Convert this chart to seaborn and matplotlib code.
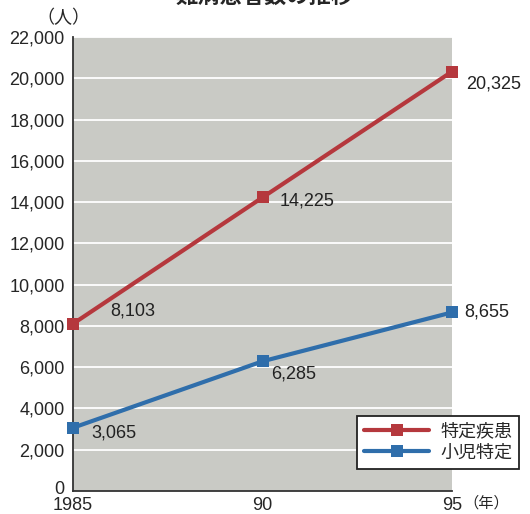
import matplotlib
matplotlib.use("Agg")
import matplotlib.pyplot as plt
import matplotlib.transforms as mtransforms
import seaborn as sns
import pandas as pd

years = [1985, 1990, 1995]
year_labels = ["1985", "90", "95"]
series_names = ["特定疾患", "小児特定"]
tokutei = [8103, 14225, 20325]
shoni = [3065, 6285, 8655]
yticks = list(range(0, 22001, 2000))

sns.set_style("white")
plt.rcParams['font.family'] = ['Liberation Sans', 'Noto Sans CJK JP']

df = pd.DataFrame({
    "year": years * 2,
    "value": tokutei + shoni,
    "series": [series_names[0]] * 3 + [series_names[1]] * 3,
})

fig = plt.figure(figsize=(5.30, 5.14), dpi=100)
ax = fig.add_axes([73/530, 1-491/514, (452-73)/530, (491-37)/514])
ax.set_facecolor("#c9cac5")

colors = {series_names[0]: "#b5383d", series_names[1]: "#2f6eab"}
sns.lineplot(data=df, x="year", y="value", hue="series", palette=colors,
             marker="s", markersize=8.5, linewidth=3, markeredgewidth=0,
             ax=ax, legend=False, zorder=5, clip_on=False)

ax.set_xlim(1985, 1995)
ax.set_ylim(0, 22000)
ax.set_yticks(yticks)
ax.set_yticklabels([f"{v:,}" for v in yticks], fontsize=13)
ax.set_xticks(years)
ax.set_xticklabels(year_labels, fontsize=13)
ax.tick_params(axis='y', length=0, pad=6)
ax.tick_params(axis='x', length=3, width=1, direction='out', color='#333333', pad=1.5)
# lift the "0" label a little so it clears the year labels
lbl0 = ax.get_yticklabels()[0]
lbl0.set_transform(lbl0.get_transform() +
                   mtransforms.ScaledTranslation(0, 3/100, fig.dpi_scale_trans))
for y in yticks[1:]:
    ax.axhline(y, color="white", lw=1.3, zorder=1)
ax.set_xlabel("")
ax.set_ylabel("")
for s in ["top", "right"]:
    ax.spines[s].set_visible(False)
ax.spines["left"].set_color("#333333")
ax.spines["bottom"].set_color("#333333")
ax.spines["left"].set_linewidth(1.3)
ax.spines["bottom"].set_linewidth(1.3)

# value labels
offsets_t = [(27, 9), (12, -2.5), (10, -9)]
offsets_s = [(13, -3.5), (6.5, -9), (9, 0)]
for (x, v), (dx, dy) in zip(zip(years, tokutei), offsets_t):
    ax.annotate(f"{v:,}", (x, v), xytext=(dx, dy), textcoords="offset points",
                fontsize=13, ha="left", va="center", color="#222222")
for (x, v), (dx, dy) in zip(zip(years, shoni), offsets_s):
    ax.annotate(f"{v:,}", (x, v), xytext=(dx, dy), textcoords="offset points",
                fontsize=13, ha="left", va="center", color="#222222")

# legend
from matplotlib.lines import Line2D
handles = [Line2D([0], [0], color=colors[n], lw=3, marker="s", markersize=8.5,
                  markeredgewidth=0) for n in series_names]
leg = fig.legend(handles, series_names, loc="upper left",
                 bbox_to_anchor=(357/530, 1-416/514), fontsize=13,
                 frameon=True, fancybox=False, handlelength=3.6,
                 borderpad=0.4, labelspacing=0.25, handletextpad=0.6,
                 borderaxespad=0)
leg.get_frame().set_edgecolor("#222222")
leg.get_frame().set_linewidth(1.3)
leg.get_frame().set_facecolor("white")
leg.get_frame().set_alpha(1)

fig.text(36/530, 1-18/514, "（人）", fontsize=13, ha="left", va="center")
fig.text(463/530, 1-503/514, "（年）", fontsize=11, ha="left", va="center")
fig.text(265/530, 1+3/514, "難病患者数の推移", fontsize=16, fontweight="bold",
         ha="center", va="center")

fig.savefig("out.png", dpi=100)
